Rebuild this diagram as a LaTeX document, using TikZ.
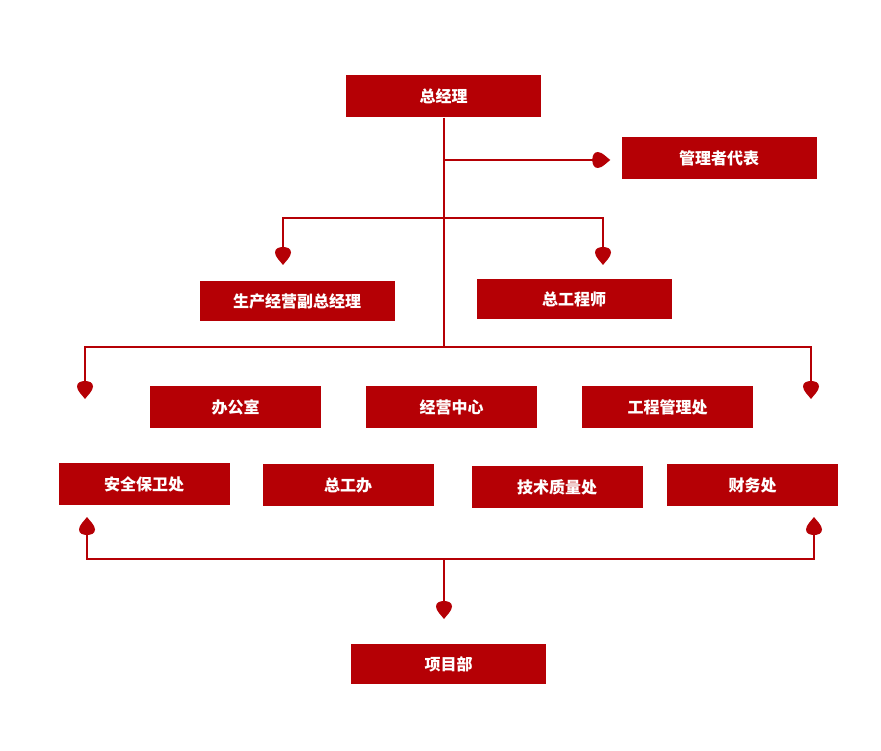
\documentclass[tikz,border=0pt]{standalone}
\usepackage{fontspec}
\newfontfamily\cjk{Noto Sans CJK SC}
\usepackage{tikz}
\usetikzlibrary{arrows.meta,positioning,calc}
\definecolor{orgred}{HTML}{B50005}

\pgfdeclarearrow{
  name=Drop,
  setup code={
    \pgfarrowssettipend{0pt}
    \pgfarrowssetbackend{-18pt}
    \pgfarrowssetlineend{-13pt}
    \pgfarrowsupperhullpoint{-18pt}{8pt}
    \pgfarrowsupperhullpoint{0pt}{0pt}
  },
  drawing code={
    \pgfpathmoveto{\pgfqpoint{0pt}{0pt}}
    \pgfpathcurveto{\pgfqpoint{-3pt}{2pt}}{\pgfqpoint{-8pt}{8pt}}{\pgfqpoint{-12.5pt}{8pt}}
    \pgfpathcurveto{\pgfqpoint{-16.5pt}{8pt}}{\pgfqpoint{-18pt}{4pt}}{\pgfqpoint{-18pt}{0pt}}
    \pgfpathcurveto{\pgfqpoint{-18pt}{-4pt}}{\pgfqpoint{-16.5pt}{-8pt}}{\pgfqpoint{-12.5pt}{-8pt}}
    \pgfpathcurveto{\pgfqpoint{-8pt}{-8pt}}{\pgfqpoint{-3pt}{-2pt}}{\pgfqpoint{0pt}{0pt}}
    \pgfpathclose
    \pgfusepathqfill
  }
}

\begin{document}
\begin{tikzpicture}[
    x=1pt, y=-1pt,
    box/.style={fill=orgred, text=white, minimum width=171pt, minimum height=42pt, inner sep=0pt, font=\cjk\bfseries\fontsize{16}{16}\selectfont},
    wbox/.style={box, minimum width=195pt, minimum height=42pt},
    line/.style={draw=orgred, line width=2pt},
    arr/.style={line, -{Drop}}
]
\useasboundingbox (0,0) rectangle (881,751);
\node[wbox] (gm) at (443.5,96.5) {总经理};
\node[wbox] (rep) at (719,158.5) {管理者代表};
\node[wbox, minimum height=40pt] (vgm) at (297,301) {生产经营副总经理};
\node[wbox, minimum height=40pt] (ce) at (574,299) {总工程师};
\node[box] (off) at (235.5,407) {办公室};
\node[box] (biz) at (451.5,407) {经营中心};
\node[box] (eng) at (667.5,407) {工程管理处};
\node[box] (sec) at (144,484) {安全保卫处};
\node[box] (ceo) at (348,485) {总工办};
\node[box] (tq) at (557,487) {技术质量处};
\node[box] (fin) at (752.5,485) {财务处};
\node[wbox, minimum height=40pt] (proj) at (448.5,664) {项目部};

\coordinate (j1) at (444,218);
\coordinate (j2) at (444,347);
\coordinate (j3) at (444,559);
\coordinate (t1) at (283,265);
\coordinate (t2) at (603,265);
\coordinate (t3) at (85,399);
\coordinate (t4) at (811,399);
\coordinate (t5) at (87,517);
\coordinate (t6) at (814,517);
\coordinate (t7) at (444,619);

\draw[line] (gm.south -| j2) -- (j2);
\draw[arr, shorten >=11pt] (gm.south |- 0,160) -- (rep.west |- 0,160);
\draw[arr] (j1) -| (t1);
\draw[arr] (j1) -| (t2);
\draw[arr] (j2) -| (t3);
\draw[arr] (j2) -| (t4);
\draw[arr] (j3) -| (t5);
\draw[arr] (j3) -| (t6);
\draw[arr] (j3) -- (t7);
\end{tikzpicture}
\end{document}
